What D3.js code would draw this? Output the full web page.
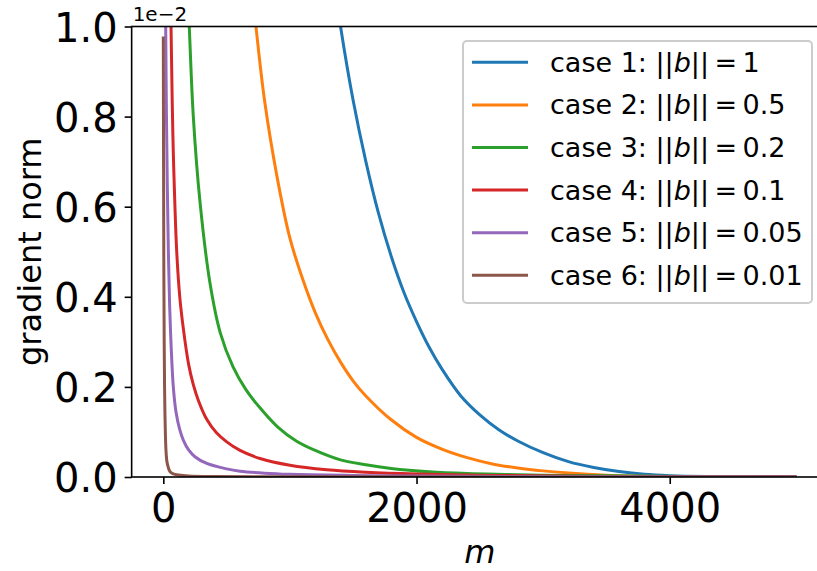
<!DOCTYPE html>
<html>
<head>
<meta charset="utf-8">
<script src="https://cdn.jsdelivr.net/npm/d3@7"></script>
<style>
  body { margin: 0; background: #fff; }
  svg { display: block; font-family: "DejaVu Sans", sans-serif; }
  .legend text { white-space: pre; }
</style>
</head>
<body>
<div class="main-container"></div>
<script>
// values, y in units of 1e-2
var caseNames = ["case 1", "case 2", "case 3", "case 4", "case 5", "case 6"];
var bNorms = ["1", "0.5", "0.2", "0.1", "0.05", "0.01"];
var colors = ["#1f77b4", "#ff7f0e", "#2ca02c", "#d62728", "#9467bd", "#8c564b"];

var m1 = [1380, 1400, 1500, 1600, 1700, 1800, 1900, 2000, 2100, 2200, 2350, 2500, 2650, 2800, 3000, 3200, 3400, 3600, 3800, 4000, 4300, 4700, 5000];
var g1 = [1.04, 1.0, 0.835, 0.70, 0.585, 0.49, 0.41, 0.345, 0.288, 0.24, 0.18, 0.138, 0.105, 0.08, 0.054, 0.034, 0.021, 0.012, 0.006, 0.003, 0.0012, 0.0004, 0.0002];

var m2 = [715, 732, 800, 900, 1000, 1100, 1200, 1300, 1400, 1500, 1600, 1800, 2000, 2200, 2400, 2600, 2800, 3000, 3200, 3500, 3700, 4200, 5000];
var g2 = [1.05, 1.0, 0.835, 0.664, 0.53, 0.44, 0.365, 0.305, 0.255, 0.213, 0.18, 0.127, 0.088, 0.062, 0.043, 0.029, 0.02, 0.0136, 0.009, 0.004, 0.002, 0.0007, 0.0002];

var m3 = [195, 205, 237, 290, 369, 450, 550, 650, 750, 900, 1050, 1200, 1400, 1600, 1800, 2100, 2400, 2700, 3000, 3500, 4200, 5000];
var g3 = [1.06, 1.0, 0.80, 0.61, 0.43, 0.32, 0.245, 0.195, 0.158, 0.112, 0.080, 0.059, 0.038, 0.027, 0.019, 0.0115, 0.0075, 0.0055, 0.004, 0.0025, 0.0012, 0.0006];

var m4 = [55, 61, 70, 79, 92, 106, 130, 158, 200, 237, 277, 343, 420, 501, 606, 764, 1000, 1291, 1600, 2000, 2580, 3500, 5000];
var g4 = [1.08, 1.0, 0.84, 0.72, 0.60, 0.50, 0.40, 0.33, 0.25, 0.205, 0.17, 0.128, 0.098, 0.078, 0.059, 0.041, 0.026, 0.016, 0.0105, 0.0065, 0.0035, 0.0013, 0.0004];

var m5 = [17, 19, 25, 32, 40, 50, 62, 79, 100, 130, 158, 200, 250, 343, 501, 606, 800, 1000, 1500, 2000, 3000, 5000];
var g5 = [1.08, 1.0, 0.80, 0.64, 0.50, 0.38, 0.29, 0.20, 0.145, 0.105, 0.082, 0.060, 0.045, 0.030, 0.018, 0.013, 0.0085, 0.006, 0.0035, 0.002, 0.001, 0.0003];

var m6 = [0, 2, 4, 7, 10, 13, 17, 22, 30, 53, 79, 120, 200, 400, 1000, 5000];
var g6 = [0.978, 0.7, 0.48, 0.3, 0.2, 0.14, 0.09, 0.055, 0.032, 0.012, 0.0067, 0.0045, 0.0025, 0.0012, 0.0005, 0.0001];

var xTicks = [0, 2000, 4000];
var yTicks = [0, 0.2, 0.4, 0.6, 0.8, 1.0];

var allM = [m1, m2, m3, m4, m5, m6];
var allG = [g1, g2, g3, g4, g5, g6];

var W = 817, H = 571;
var plotLeft = 131.65, plotTop = 26.5, plotW = 696.35, plotH = 450.5;

var svg = d3.select(".main-container")
    .append("svg")
    .attr("width", W)
    .attr("height", H);

var x = d3.scaleLinear().domain([-250, 5250]).range([plotLeft, plotLeft + plotW]);
var y = d3.scaleLinear().domain([0, 1]).range([plotTop + plotH, plotTop]);

svg.append("clipPath").attr("id", "plotClip")
    .append("rect")
    .attr("x", plotLeft).attr("y", plotTop)
    .attr("width", plotW).attr("height", plotH);

var line = d3.line()
    .x(function (d) { return x(d[0]); })
    .y(function (d) { return y(d[1]); })
    .curve(d3.curveCatmullRom.alpha(0.5));

var curves = svg.append("g").attr("clip-path", "url(#plotClip)");
allM.forEach(function (ms, i) {
    var pts = ms.map(function (m, j) { return [m, allG[i][j]]; });
    curves.append("path")
        .datum(pts)
        .attr("d", line)
        .attr("fill", "none")
        .attr("stroke", colors[i])
        .attr("stroke-width", 3)
        .attr("stroke-linejoin", "round");
});

// axes
var xAxis = d3.axisBottom(x).tickValues(xTicks).tickSize(7).tickPadding(10)
    .tickFormat(d3.format("d"));
var gx = svg.append("g")
    .attr("transform", "translate(0," + (plotTop + plotH) + ")")
    .call(xAxis);

var yAxis = d3.axisLeft(y).tickValues(yTicks).tickSize(7).tickPadding(7)
    .tickFormat(d3.format(".1f"));
var gy = svg.append("g")
    .attr("transform", "translate(" + plotLeft + ",0)")
    .call(yAxis);

[gx, gy].forEach(function (g) {
    g.select(".domain").remove();
    g.selectAll(".tick line").attr("stroke", "#000").attr("stroke-width", 1.6);
    g.selectAll(".tick text")
        .attr("fill", "#000")
        .style("font-family", "DejaVu Sans")
        .style("font-size", "40px");
});
gy.selectAll(".tick text").attr("dy", "0.37em");

// spines
svg.append("rect")
    .attr("x", plotLeft).attr("y", plotTop)
    .attr("width", plotW).attr("height", plotH)
    .attr("fill", "none")
    .attr("stroke", "#000")
    .attr("stroke-width", 1.6);

// offset text
svg.append("text")
    .attr("x", plotLeft + 1).attr("y", 20.5)
    .style("font-size", "20px")
    .text("1e\u22122");

// axis labels
svg.append("text")
    .attr("x", plotLeft + plotW / 2).attr("y", 563)
    .attr("text-anchor", "middle")
    .style("font-size", "32px")
    .style("font-style", "italic")
    .text("m");

svg.append("text")
    .attr("transform", "translate(41," + (plotTop + plotH / 2) + ") rotate(-90)")
    .attr("text-anchor", "middle")
    .style("font-size", "32px")
    .text("gradient norm");

// legend
var legend = svg.append("g").attr("class", "legend");
legend.append("rect")
    .attr("x", 463).attr("y", 41)
    .attr("width", 349).attr("height", 262)
    .attr("rx", 4).attr("ry", 4)
    .attr("fill", "#fff").attr("fill-opacity", 0.8)
    .attr("stroke", "#cccccc").attr("stroke-width", 2);

caseNames.forEach(function (name, i) {
    var cy = 62.3 + 42.6 * i;
    legend.append("line")
        .attr("x1", 472).attr("x2", 528)
        .attr("y1", cy).attr("y2", cy)
        .attr("stroke", colors[i]).attr("stroke-width", 3);
    var t = legend.append("text")
        .attr("x", 550).attr("y", cy + 9.4)
        .style("font-size", "27px");
    t.append("tspan").text(name + ": ");
    t.append("tspan").text("||");
    t.append("tspan").style("font-style", "italic").text("b");
    t.append("tspan").text("||");
    t.append("tspan").attr("dx", "0.2em").text("=");
    t.append("tspan").attr("dx", "0.2em").text(bNorms[i]);
});
</script>
</body>
</html>
